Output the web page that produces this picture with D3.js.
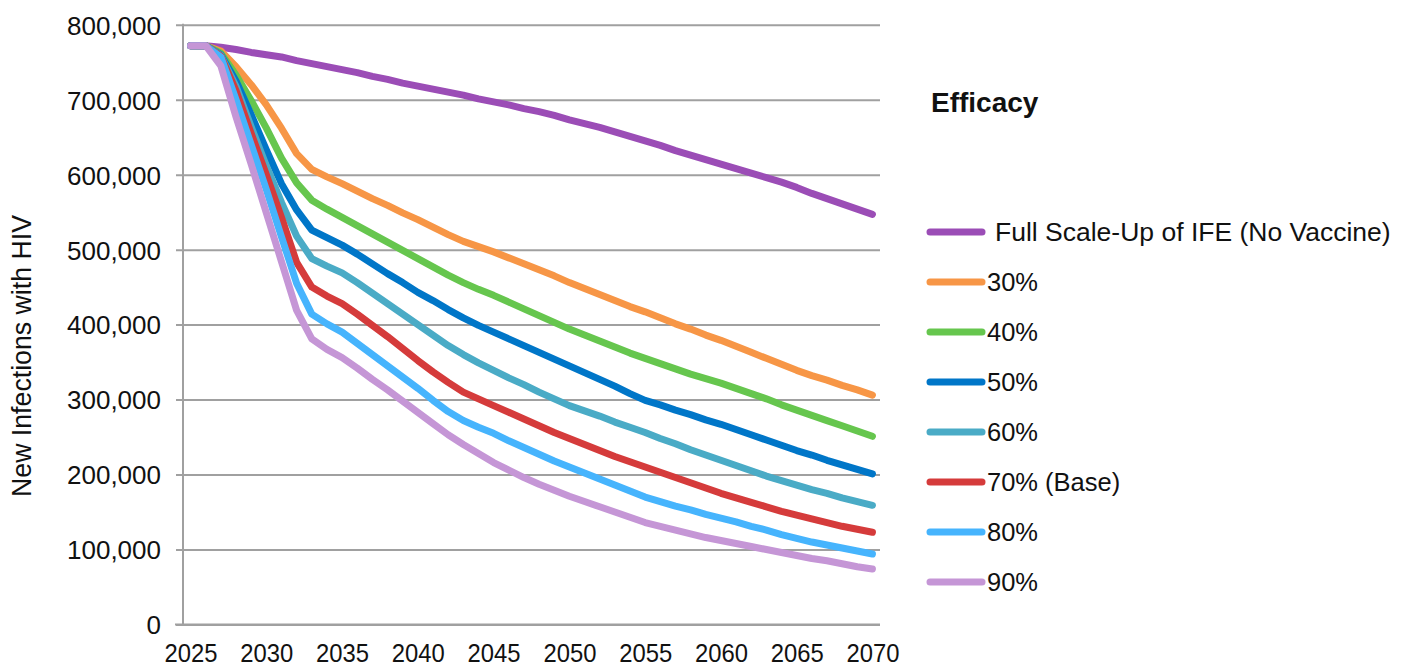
<!DOCTYPE html>
<html>
<head>
<meta charset="utf-8">
<script src="https://cdn.jsdelivr.net/npm/d3@7"></script>
<style>
  body { margin: 0; background: #fff; }
  svg { display: block; font-family: "Liberation Sans", Arial, Helvetica, sans-serif; }
</style>
</head>
<body>
<svg id="chart" width="1408" height="669"></svg>
<script>
// Years on the category axis
const years = [2025, 2026, 2027, 2028, 2029, 2030, 2031, 2032, 2033, 2034,
               2035, 2036, 2037, 2038, 2039, 2040, 2041, 2042, 2043, 2044,
               2045, 2046, 2047, 2048, 2049, 2050, 2051, 2052, 2053, 2054,
               2055, 2056, 2057, 2058, 2059, 2060, 2061, 2062, 2063, 2064,
               2065, 2066, 2067, 2068, 2069, 2070];
const xTickLabels = ["2025", "2030", "2035", "2040", "2045", "2050", "2055", "2060", "2065", "2070"];
const yTickValues = [0, 100000, 200000, 300000, 400000, 500000, 600000, 700000, 800000];
const yTickLabels = ["0", "100,000", "200,000", "300,000", "400,000", "500,000", "600,000", "700,000", "800,000"];

// New HIV infections per year, in thousands
const noVaccine = [772, 772, 770, 767, 763, 760, 757, 752, 748, 744,
                   740, 736, 731, 727, 722, 718, 714, 710, 706, 701,
                   697, 693, 688, 684, 679, 673, 668, 663, 657, 651,
                   645, 639, 632, 626, 620, 614, 608, 602, 596, 590,
                   583, 575, 568, 561, 554, 547];
const eff30 = [772, 772, 765, 744, 720, 693, 662, 628, 607, 597,
               588, 578, 568, 559, 549, 540, 530, 520, 511, 504,
               497, 489, 481, 473, 465, 456, 448, 440, 432, 424,
               417, 409, 401, 394, 386, 379, 371, 363, 355, 347,
               339, 332, 326, 319, 313, 306];
const eff40 = [772, 772, 762, 733, 699, 662, 622, 589, 566, 554,
               543, 532, 521, 510, 499, 488, 477, 466, 456, 447,
               439, 430, 421, 412, 403, 394, 386, 378, 370, 362,
               355, 348, 341, 334, 328, 322, 315, 308, 301, 293,
               286, 279, 272, 265, 258, 251];
const eff50 = [772, 772, 760, 725, 680, 633, 588, 553, 526, 516,
               506, 494, 481, 468, 456, 443, 432, 420, 409, 399,
               390, 381, 372, 363, 354, 345, 336, 327, 318, 308,
               299, 293, 286, 280, 273, 267, 260, 253, 246, 239,
               232, 226, 219, 213, 207, 201];
const eff60 = [772, 772, 759, 718, 664, 612, 563, 518, 488, 478,
               469, 456, 442, 428, 414, 400, 386, 372, 360, 349,
               339, 329, 320, 310, 301, 292, 285, 278, 270, 263,
               256, 248, 241, 233, 226, 219, 212, 205, 198, 192,
               186, 180, 175, 169, 164, 159];
const eff70 = [772, 772, 758, 712, 655, 600, 543, 483, 450, 438,
               428, 414, 399, 384, 368, 352, 337, 323, 310, 301,
               292, 283, 274, 265, 256, 248, 240, 232, 224, 217,
               210, 203, 196, 189, 182, 175, 169, 163, 157, 151,
               146, 141, 136, 131, 127, 123];
const eff80 = [772, 772, 757, 700, 640, 580, 517, 455, 414, 401,
               390, 375, 360, 345, 330, 315, 299, 284, 272, 263,
               255, 245, 236, 227, 218, 210, 202, 194, 186, 178,
               170, 164, 158, 153, 147, 142, 137, 131, 126, 120,
               115, 110, 106, 102, 98, 94];
const eff90 = [772, 772, 745, 677, 614, 549, 484, 419, 381, 367,
               356, 342, 327, 313, 298, 283, 268, 253, 240, 228,
               216, 206, 196, 187, 179, 171, 164, 157, 150, 143,
               136, 131, 126, 121, 116, 112, 108, 104, 100, 96,
               92, 88, 85, 81, 77, 74];

const seriesNames = ["Full Scale-Up of IFE (No Vaccine)", "30%", "40%", "50%", "60%", "70% (Base)", "80%", "90%"];
const seriesValues = [noVaccine, eff30, eff40, eff50, eff60, eff70, eff80, eff90];
const seriesColors = ["#9b4db6", "#f79646", "#66c64e", "#0076c8", "#4aabc6", "#d53b3b", "#46b4fd", "#c596d6"];

const UNIT = 1000;

const svg = d3.select("#chart");

const plot = { left: 183, right: 880, top: 24.7, bottom: 624.5 };

const x = d3.scalePoint()
  .domain(years)
  .range([plot.left, plot.right])
  .padding(0.5);

const y = d3.scaleLinear()
  .domain([0, 800000])
  .range([plot.bottom, plot.top]);

// Horizontal gridlines and left axis ticks
const yAxis = d3.axisLeft(y)
  .tickValues(yTickValues)
  .tickSize(-(plot.right - plot.left))
  .tickPadding(22)
  .tickFormat((d, i) => yTickLabels[i]);

const gy = svg.append("g")
  .attr("transform", `translate(${plot.left},0)`)
  .call(yAxis);
gy.select(".domain").remove();
gy.selectAll(".tick line")
  .attr("x1", -7)
  .attr("stroke", "#a0a0a0")
  .attr("stroke-width", 2);
gy.selectAll(".tick text")
  .attr("fill", "#111")
  .attr("font-size", 26)
  .attr("font-family", "Liberation Sans, Arial, sans-serif")
  .attr("dy", "0.36em");

// Vertical axis line
svg.append("line")
  .attr("x1", plot.left).attr("x2", plot.left)
  .attr("y1", plot.top - 1).attr("y2", plot.bottom)
  .attr("stroke", "#a0a0a0").attr("stroke-width", 2);

// Bottom category axis
const xAxis = d3.axisBottom(x)
  .tickValues(xTickLabels.map(Number))
  .tickSize(0)
  .tickPadding(19)
  .tickFormat(d => String(d));

const gx = svg.append("g")
  .attr("transform", `translate(0,${plot.bottom})`)
  .call(xAxis);
gx.select(".domain").remove();
gx.selectAll(".tick text")
  .attr("fill", "#111")
  .attr("font-size", 26)
  .attr("font-family", "Liberation Sans, Arial, sans-serif")
  .attr("textLength", 53)
  .attr("lengthAdjust", "spacingAndGlyphs")
  .attr("text-anchor", "middle");

svg.append("line")
  .attr("x1", plot.left - 8).attr("x2", plot.right)
  .attr("y1", plot.bottom).attr("y2", plot.bottom)
  .attr("stroke", "#a0a0a0").attr("stroke-width", 2);

// Y axis title
svg.append("text")
  .attr("transform", `translate(31,356) rotate(-90)`)
  .attr("text-anchor", "middle")
  .attr("font-size", 27)
  .attr("textLength", 282)
  .attr("lengthAdjust", "spacingAndGlyphs")
  .attr("fill", "#111")
  .text("New Infections with HIV");

// Series lines
const line = d3.line()
  .x((d, i) => x(years[i]))
  .y(d => y(d * UNIT));

svg.append("g")
  .selectAll("path")
  .data(seriesValues)
  .join("path")
  .attr("d", d => line(d))
  .attr("fill", "none")
  .attr("stroke", (d, i) => seriesColors[i])
  .attr("stroke-width", 7)
  .attr("stroke-linejoin", "round")
  .attr("stroke-linecap", "round");

// Legend
const legend = svg.append("g");
legend.append("text")
  .attr("x", 931).attr("y", 112)
  .attr("font-size", 28)
  .attr("font-weight", "bold")
  .attr("fill", "#111")
  .text("Efficacy");

const legendRows = legend.selectAll("g.row")
  .data(seriesNames)
  .join("g")
  .attr("class", "row")
  .attr("transform", (d, i) => `translate(0,${232 + i * 50})`);

legendRows.append("line")
  .attr("x1", 930).attr("x2", 982)
  .attr("y1", 0).attr("y2", 0)
  .attr("stroke", (d, i) => seriesColors[i])
  .attr("stroke-width", 7)
  .attr("stroke-linecap", "round");

legendRows.append("text")
  .attr("x", (d, i) => i === 0 ? 995 : 987)
  .attr("y", 8.5)
  .attr("font-size", (d, i) => i === 0 ? 26.5 : 25.5)
  .attr("fill", "#111")
  .text(d => d);
</script>
</body>
</html>
